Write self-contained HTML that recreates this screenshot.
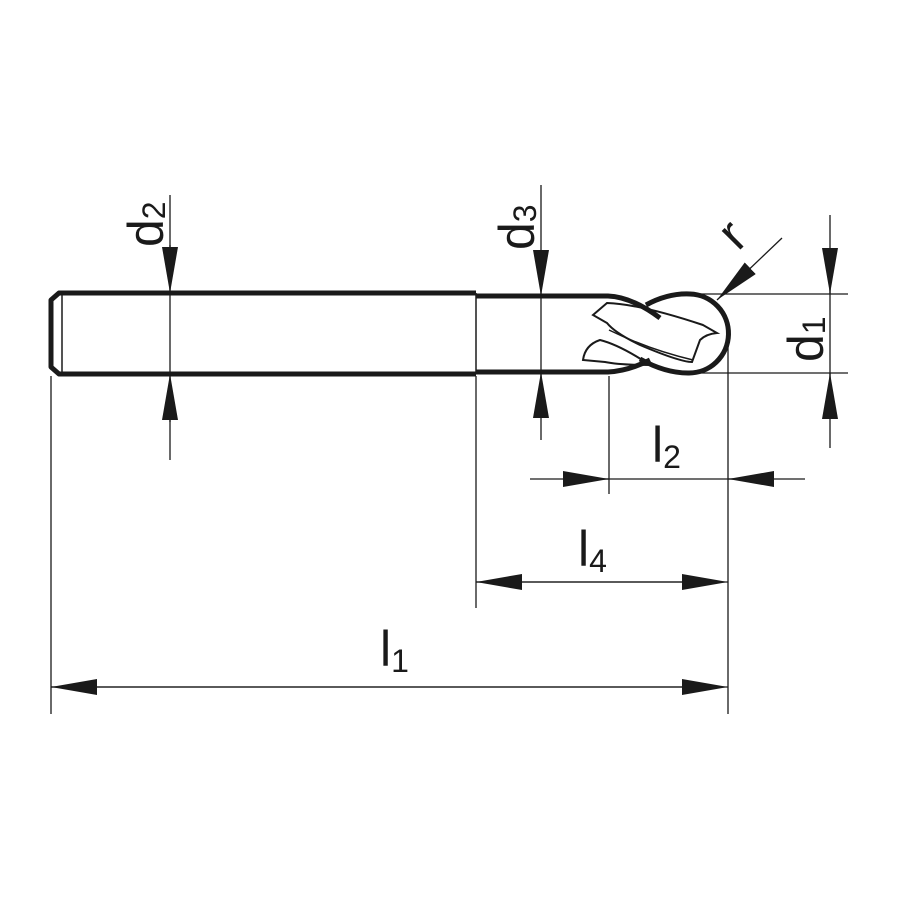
<!DOCTYPE html>
<html><head><style>html,body{margin:0;padding:0;background:#fff}svg{display:block}</style></head>
<body>
<svg width="900" height="900" viewBox="0 0 900 900" xmlns="http://www.w3.org/2000/svg" font-family="Liberation Sans, sans-serif" fill="#1a1a1a">
<defs>
<marker id="a" viewBox="0 0 46 16" refX="46" refY="8" markerWidth="46" markerHeight="16" markerUnits="userSpaceOnUse" orient="auto"><path d="M0 0 L46 8 L0 16 Z" fill="#1a1a1a"/></marker>
</defs>
<g stroke="#1a1a1a" fill="none">
<path d="M476 293 L59 293 L51 300 L51 367 L59 374 L476 374" stroke-width="5" stroke-linejoin="round"/>
<line x1="62" y1="295" x2="62" y2="372" stroke-width="1.5"/>
<line x1="476" y1="293" x2="476" y2="374" stroke-width="1.5"/>
<path d="M476 296 L608 296 Q632 297 660 318" stroke-width="5"/>
<path d="M476 372 L608 372 Q628 371 650 360" stroke-width="5"/>
<path d="M646 305 Q668 293 690 294 A39.5 39.5 0 0 1 688 373 Q665 373 640 359" stroke-width="5"/>
<path d="M593 315 L607 303 Q640 304 703 325 L717 333 Q706 334 700 340 L692 362 Q680 362 640 345 Q615 333 607 323 Z" stroke-width="2"/>
<path d="M609 330 Q650 350 693 360" stroke-width="1.5"/>
<path d="M583 360 Q585 345 600 340 Q620 345 650 365 Q620 365 605 362 Z" stroke-width="2"/>
<g stroke-width="1.3">
<line x1="51" y1="376" x2="51" y2="714"/>
<line x1="476" y1="376" x2="476" y2="608"/>
<line x1="609" y1="376" x2="609" y2="494"/>
<line x1="728" y1="335" x2="728" y2="714"/>
<line x1="700" y1="294" x2="848" y2="294"/>
<line x1="700" y1="373" x2="848" y2="373"/>
<line x1="170" y1="195" x2="170" y2="460"/>
<line x1="170" y1="245" x2="170" y2="293" marker-end="url(#a)"/>
<line x1="170" y1="422" x2="170" y2="374" marker-end="url(#a)"/>
<line x1="541" y1="185" x2="541" y2="440"/>
<line x1="541" y1="250" x2="541" y2="296" marker-end="url(#a)"/>
<line x1="541" y1="418" x2="541" y2="372" marker-end="url(#a)"/>
<line x1="830" y1="215" x2="830" y2="448"/>
<line x1="830" y1="248" x2="830" y2="294" marker-end="url(#a)"/>
<line x1="830" y1="419" x2="830" y2="373" marker-end="url(#a)"/>
<line x1="782" y1="238" x2="717" y2="300" marker-end="url(#a)"/>
<line x1="530" y1="479" x2="805" y2="479"/>
<line x1="563" y1="479" x2="609" y2="479" marker-end="url(#a)"/>
<line x1="774" y1="479" x2="728" y2="479" marker-end="url(#a)"/>
<line x1="476" y1="582" x2="728" y2="582" marker-end="url(#a)"/>
<line x1="700" y1="582" x2="476" y2="582" marker-end="url(#a)"/>
<line x1="51" y1="687" x2="728" y2="687" marker-end="url(#a)"/>
<line x1="700" y1="687" x2="51" y2="687" marker-end="url(#a)"/>
</g>
</g>
<g font-size="50">
<text transform="translate(163,247) rotate(-90)">d<tspan font-size="32" dy="2">2</tspan></text>
<text transform="translate(534,250) rotate(-90)">d<tspan font-size="32" dy="2">3</tspan></text>
<text transform="translate(823,362) rotate(-90)">d<tspan font-size="32" dy="2">1</tspan></text>
<text transform="translate(738,252) rotate(-45)" font-size="50">r</text>
<text x="652" y="462">l<tspan font-size="32" dy="6">2</tspan></text>
<text x="578" y="566">l<tspan font-size="32" dy="6">4</tspan></text>
<text x="380" y="666">l<tspan font-size="32" dy="6">1</tspan></text>
</g>
</svg>
</body></html>
